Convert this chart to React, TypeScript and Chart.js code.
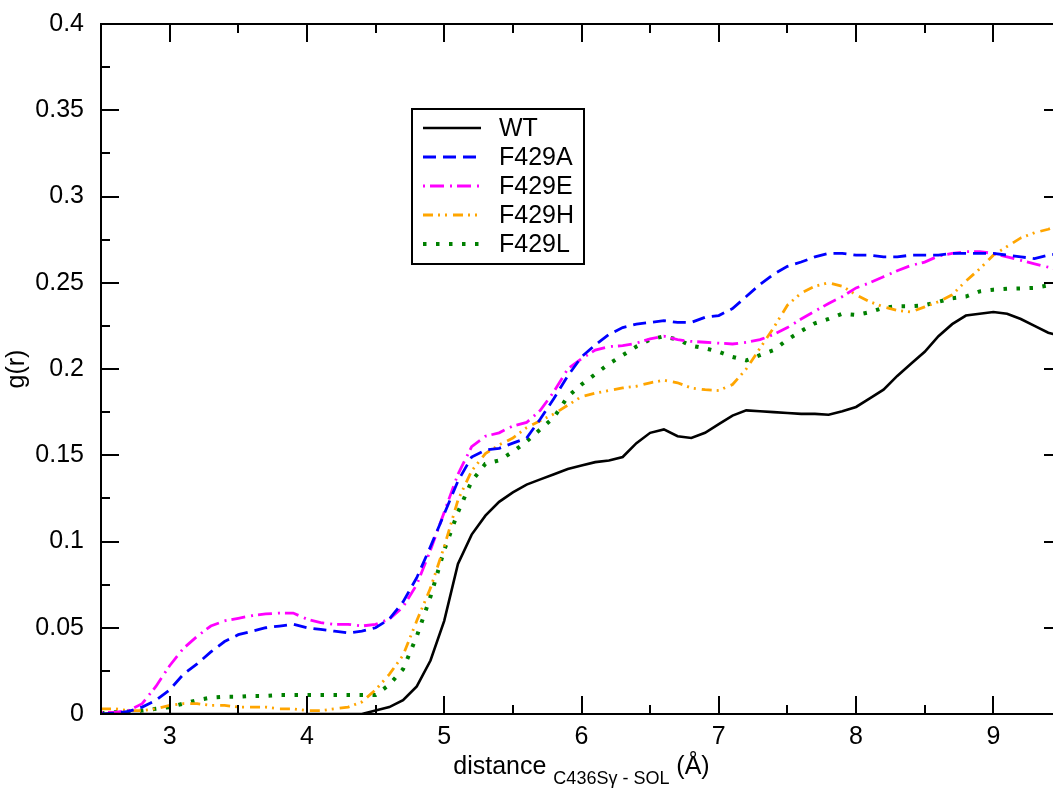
import React, { useEffect, useRef } from "react";
import { Chart, registerables } from "chart.js";

Chart.register(...registerables);

// ---------- data ----------
const distance = [
  2.5, 2.6, 2.7, 2.8, 2.9, 3.0, 3.1, 3.2, 3.3, 3.4,
  3.5, 3.6, 3.7, 3.8, 3.9, 4.0, 4.1, 4.2, 4.3, 4.4,
  4.5, 4.6, 4.7, 4.8, 4.9, 5.0, 5.1, 5.2, 5.3, 5.4,
  5.5, 5.6, 5.7, 5.8, 5.9, 6.0, 6.1, 6.2, 6.3, 6.4,
  6.5, 6.6, 6.7, 6.8, 6.9, 7.0, 7.1, 7.2, 7.3, 7.4,
  7.5, 7.6, 7.7, 7.8, 7.9, 8.0, 8.1, 8.2, 8.3, 8.4,
  8.5, 8.6, 8.7, 8.8, 8.9, 9.0, 9.1, 9.2, 9.3, 9.4,
  9.5,
];

const wt = [
  0, 0, 0, 0, 0, 0, 0, 0, 0, 0,
  0, 0, 0, 0, 0, 0, 0, 0, 0, 0,
  0.002, 0.004, 0.008, 0.016, 0.031, 0.054, 0.087, 0.104, 0.115, 0.123,
  0.1285, 0.133, 0.136, 0.139, 0.142, 0.144, 0.146, 0.147, 0.149, 0.157,
  0.163, 0.165, 0.161, 0.16, 0.163, 0.168, 0.173, 0.176, 0.1755, 0.175,
  0.1745, 0.174, 0.174, 0.1735, 0.1755, 0.178, 0.183, 0.188, 0.196, 0.203,
  0.21, 0.219, 0.226, 0.231, 0.232, 0.233, 0.232, 0.229, 0.225, 0.221,
  0.219,
];

const f429a = [
  0.0, 0.0005, 0.0015, 0.004, 0.008, 0.014, 0.023, 0.029, 0.036, 0.042,
  0.046, 0.048, 0.05, 0.051, 0.052, 0.05, 0.049, 0.048, 0.047, 0.048,
  0.05, 0.055, 0.065, 0.079, 0.097, 0.116, 0.135, 0.149, 0.153, 0.154,
  0.157, 0.16, 0.171, 0.183, 0.196, 0.207, 0.214, 0.22, 0.224, 0.226,
  0.227, 0.228, 0.227, 0.227, 0.23, 0.231, 0.235, 0.242, 0.249, 0.255,
  0.2595, 0.262, 0.265, 0.267, 0.267, 0.266, 0.266, 0.265, 0.265, 0.266,
  0.266, 0.266, 0.267, 0.267, 0.267, 0.267, 0.266, 0.265, 0.264, 0.266,
  0.267,
];

const f429e = [
  0.001, 0.001, 0.002, 0.006, 0.016, 0.028, 0.038, 0.045, 0.051, 0.054,
  0.0555, 0.057, 0.058, 0.0585, 0.0585, 0.055, 0.053, 0.052, 0.052, 0.051,
  0.052, 0.055, 0.062, 0.075, 0.095, 0.117, 0.139, 0.155, 0.161, 0.163,
  0.167, 0.169, 0.176, 0.187, 0.2, 0.206, 0.211, 0.213, 0.2135, 0.215,
  0.2175, 0.219, 0.217, 0.216, 0.2155, 0.215, 0.2145, 0.2155, 0.217, 0.22,
  0.224, 0.229, 0.2335, 0.238, 0.242, 0.247, 0.25, 0.2535, 0.257, 0.26,
  0.262, 0.2655, 0.267, 0.268, 0.268, 0.267, 0.265, 0.263, 0.261, 0.259,
  0.257,
];

const f429h = [
  0.003, 0.003, 0.002, 0.002, 0.003, 0.005, 0.006, 0.006, 0.005, 0.005,
  0.004, 0.004, 0.004, 0.003, 0.003, 0.002, 0.002, 0.003, 0.004, 0.007,
  0.014, 0.023, 0.034, 0.054, 0.073, 0.097, 0.124, 0.141, 0.151, 0.156,
  0.16, 0.166, 0.17, 0.174, 0.179, 0.184, 0.186, 0.1875, 0.189, 0.19,
  0.192, 0.1935, 0.192, 0.189, 0.188, 0.1875, 0.191, 0.2, 0.212, 0.224,
  0.237, 0.244, 0.248, 0.25, 0.248, 0.243, 0.239, 0.236, 0.234, 0.233,
  0.236, 0.239, 0.243, 0.251, 0.258, 0.266, 0.271, 0.276, 0.279, 0.281,
  0.284,
];

const f429l = [
  0.0005, 0.001, 0.0015, 0.002, 0.003, 0.004, 0.006, 0.008, 0.0095, 0.01,
  0.01, 0.0105, 0.0105, 0.011, 0.011, 0.011, 0.011, 0.011, 0.011, 0.011,
  0.011, 0.017, 0.026, 0.045, 0.068, 0.095, 0.117, 0.135, 0.145, 0.147,
  0.152, 0.158, 0.165, 0.172, 0.184, 0.191, 0.197, 0.203, 0.208, 0.213,
  0.217, 0.219, 0.217, 0.2135, 0.212, 0.21, 0.207, 0.205, 0.208, 0.211,
  0.217, 0.222, 0.2265, 0.229, 0.232, 0.2313, 0.233, 0.2355, 0.2364, 0.2364,
  0.237, 0.239, 0.241, 0.242, 0.245, 0.246, 0.2465, 0.2467, 0.247, 0.2485,
  0.25,
];

const seriesLabels = ["WT", "F429A", "F429E", "F429H", "F429L"];

const xMajorTicks = [3, 4, 5, 6, 7, 8, 9];
const xTickLabels = ["3", "4", "5", "6", "7", "8", "9"];
const xMinorTicks = [3.5, 4.5, 5.5, 6.5, 7.5, 8.5];

const yMajorTicks = [0, 0.05, 0.1, 0.15, 0.2, 0.25, 0.3, 0.35, 0.4];
const yTickLabels = ["0", "0.05", "0.1", "0.15", "0.2", "0.25", "0.3", "0.35", "0.4"];
const yMinorTicks = [0.025, 0.075, 0.125, 0.175, 0.225, 0.275, 0.325, 0.375];

// ---------- styles ----------
const FONT = "'Liberation Sans', Arial, Helvetica, sans-serif";
const seriesStyles = [
  { color: "#000000", dash: [] as number[], width: 2.6 },
  { color: "#0000ff", dash: [13, 7], width: 2.8 },
  { color: "#ff00ff", dash: [2, 5, 14, 6], width: 2.8 },
  { color: "#ffa500", dash: [10, 5, 2, 5, 2, 6], width: 2.8 },
  { color: "#008000", dash: [3.5, 9.5], width: 4 },
];

const decorPlugin = {
  id: "decor",
  afterDraw(chart: any) {
    const ctx: CanvasRenderingContext2D = chart.ctx;
    const { left, right, top, bottom } = chart.chartArea;
    const sx = chart.scales.x;
    const sy = chart.scales.y;
    ctx.save();
    ctx.strokeStyle = "#000";
    ctx.lineWidth = 2;
    ctx.setLineDash([]);
    ctx.strokeRect(left, top, right - left, bottom - top);

    const MAJ = 18;
    const MIN = 9;
    ctx.beginPath();
    const xt = (vals: number[], len: number) => {
      vals.forEach((v) => {
        const px = Math.round(sx.getPixelForValue(v));
        ctx.moveTo(px, bottom);
        ctx.lineTo(px, bottom - len);
        ctx.moveTo(px, top);
        ctx.lineTo(px, top + len);
      });
    };
    const yt = (vals: number[], len: number) => {
      vals.forEach((v) => {
        const py = Math.round(sy.getPixelForValue(v));
        ctx.moveTo(left, py);
        ctx.lineTo(left + len, py);
        ctx.moveTo(right, py);
        ctx.lineTo(right - len, py);
      });
    };
    xt(xMajorTicks, MAJ);
    xt(xMinorTicks, MIN);
    yt(yMajorTicks, MAJ);
    yt(yMinorTicks, MIN);
    ctx.stroke();

    // x-axis title with subscript
    const cx = (left + right) / 2;
    ctx.fillStyle = "#000";
    ctx.textBaseline = "alphabetic";
    ctx.textAlign = "left";
    const big = `25px ${FONT}`;
    const small = `18px ${FONT}`;
    const t1 = "distance ";
    const t2 = "C436S\u03b3 - SOL";
    const t3 = " (\u00c5)";
    ctx.font = big;
    const w1 = ctx.measureText(t1).width;
    const w3 = ctx.measureText(t3).width;
    ctx.font = small;
    const w2 = ctx.measureText(t2).width;
    let x0 = cx - (w1 + w2 + w3) / 2;
    ctx.font = big;
    ctx.fillText(t1, x0, 774);
    x0 += w1;
    ctx.font = small;
    ctx.fillText(t2, x0, 784);
    x0 += w2;
    ctx.font = big;
    ctx.fillText(t3, x0, 774);

    // y-axis title
    ctx.save();
    ctx.translate(24, (top + bottom) / 2);
    ctx.rotate(-Math.PI / 2);
    ctx.textAlign = "center";
    ctx.font = big;
    ctx.fillText("g(r)", 0, 0);
    ctx.restore();

    // legend
    ctx.lineWidth = 2;
    ctx.strokeRect(412, 109, 172, 155);
    chart.data.datasets.forEach((ds: any, i: number) => {
      const y = 128 + i * 29;
      ctx.beginPath();
      ctx.strokeStyle = ds.borderColor;
      ctx.lineWidth = ds.borderWidth;
      ctx.setLineDash(ds.borderDash || []);
      ctx.moveTo(423, y);
      ctx.lineTo(481, y);
      ctx.stroke();
      ctx.setLineDash([]);
      ctx.fillStyle = "#000";
      ctx.font = big;
      ctx.textAlign = "left";
      ctx.textBaseline = "middle";
      ctx.fillText(ds.label, 499, y + 1);
    });
    ctx.restore();
  },
};

export default function App() {
  const ref = useRef<HTMLCanvasElement | null>(null);

  useEffect(() => {
    if (!ref.current) return;
    const all = [wt, f429a, f429e, f429h, f429l];
    const datasets = all.map((vals, i) => ({
      label: seriesLabels[i],
      data: distance.map((x, j) => ({ x, y: vals[j] })),
      borderColor: seriesStyles[i].color,
      borderDash: seriesStyles[i].dash,
      borderWidth: seriesStyles[i].width,
      pointRadius: 0,
      fill: false,
      tension: 0,
      borderCapStyle: "butt" as const,
    }));

    const chart = new Chart(ref.current, {
      type: "line",
      data: { datasets },
      plugins: [decorPlugin],
      options: {
        responsive: false,
        animation: false,
        devicePixelRatio: 1,
        layout: { padding: { top: 16, right: 18, left: 0, bottom: 0 } },
        plugins: {
          legend: { display: false },
          tooltip: { enabled: false },
          title: { display: false },
        },
        scales: {
          x: {
            type: "linear",
            min: 2.5,
            max: 9.5,
            grid: { display: false },
            border: { display: false },
            afterBuildTicks: (s: any) => {
              s.ticks = xMajorTicks.map((v) => ({ value: v }));
            },
            afterFit: (s: any) => {
              s.height = 74;
            },
            ticks: {
              color: "#000",
              font: { size: 25, family: FONT },
              padding: 0,
              maxRotation: 0,
              autoSkip: false,
              callback: (v: any) => {
                const k = xMajorTicks.indexOf(Number(v));
                return k >= 0 ? xTickLabels[k] : "";
              },
            },
          },
          y: {
            type: "linear",
            min: 0,
            max: 0.4,
            grid: { display: false },
            border: { display: false },
            afterBuildTicks: (s: any) => {
              s.ticks = yMajorTicks.map((v) => ({ value: v }));
            },
            afterFit: (s: any) => {
              s.width = 101;
            },
            ticks: {
              color: "#000",
              font: { size: 25, family: FONT },
              padding: 9,
              autoSkip: false,
              callback: (v: any) => {
                const k = yMajorTicks.findIndex((t) => Math.abs(t - Number(v)) < 1e-9);
                return k >= 0 ? yTickLabels[k] : "";
              },
            },
          },
        },
      },
    });
    return () => chart.destroy();
  }, []);

  return (
    <div
      style={{
        position: "fixed",
        left: 0,
        top: 0,
        width: 1053,
        height: 788,
        overflow: "hidden",
        background: "#fff",
      }}
    >
      <canvas ref={ref} width={1080} height={788} style={{ display: "block" }} />
    </div>
  );
}
